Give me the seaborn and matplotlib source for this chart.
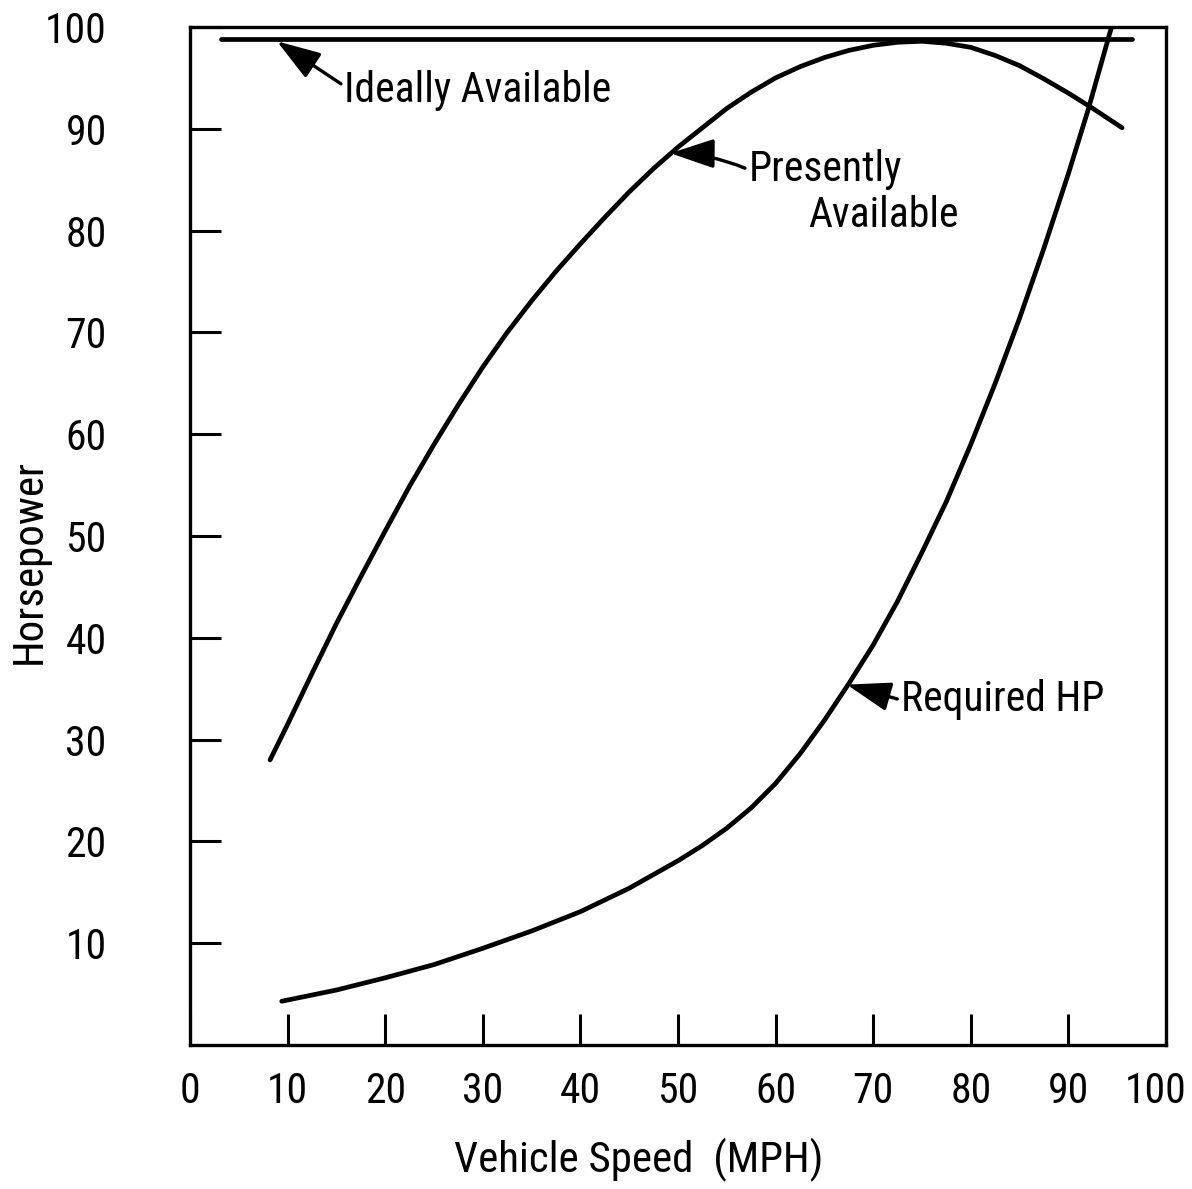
import matplotlib
matplotlib.use('agg')
import matplotlib.pyplot as plt
from matplotlib.transforms import ScaledTranslation
import seaborn as sns
import pandas as pd

# values (speed in MPH, horsepower)
ideal_speed = [3.2, 96.5]
ideal_hp = [98.8, 98.8]

present_speed = [8.2, 10, 12.5, 15, 17.5, 20, 22.5, 25, 27.5, 30, 32.5, 35, 37.5, 40, 42.5, 45,
                 47.5, 50, 52.5, 55, 57.5, 60, 62.5, 65, 67.5, 70, 72.5, 75, 77.5, 80, 82.5,
                 85, 87.5, 90, 92.5, 95.5]
present_hp = [28, 31.5, 36.5, 41.4, 46, 50.5, 54.9, 59, 62.9, 66.6, 70.0, 73.1, 76.0, 78.7, 81.3, 83.8,
              86.1, 88.2, 90.1, 92.0, 93.6, 95.0, 96.1, 97.0, 97.7, 98.2, 98.5, 98.6, 98.4, 98.0, 97.2,
              96.2, 94.9, 93.5, 92.0, 90.1]

required_speed = [9.4, 15, 20, 25, 30, 35, 40, 45, 50, 52.5, 55, 57.5, 60, 62.5, 65, 67.5, 70,
                  72.5, 75, 77.5, 80, 82.5, 85, 87.5, 90, 92, 94.3, 94.6]
required_hp = [4.3, 5.4, 6.6, 7.9, 9.5, 11.2, 13.1, 15.4, 18.1, 19.6, 21.3, 23.3, 25.7, 28.6, 31.9,
               35.5, 39.3, 43.6, 48.4, 53.4, 59.0, 65.0, 71.4, 78.3, 85.6, 91.8, 99.6, 100.6]

xticks = list(range(0, 101, 10))
yticks = list(range(10, 101, 10))

sns.set_style("ticks")
plt.rcParams['font.family'] = ['Roboto Condensed', 'Liberation Sans Narrow',
                               'DejaVu Sans Condensed', 'Roboto', 'DejaVu Sans']
plt.rcParams['text.color'] = 'black'
plt.rcParams['xtick.color'] = 'black'
plt.rcParams['ytick.color'] = 'black'
plt.rcParams['axes.edgecolor'] = 'black'
plt.rcParams['axes.labelcolor'] = 'black'

fig = plt.figure(figsize=(11.92, 11.89), dpi=100)
ax = fig.add_axes([0.1594, 0.1211, 0.8188, 0.8562])

curves = pd.concat([
    pd.DataFrame({"speed": ideal_speed, "hp": ideal_hp, "curve": "ideal"}),
    pd.DataFrame({"speed": present_speed, "hp": present_hp, "curve": "present"}),
    pd.DataFrame({"speed": required_speed, "hp": required_hp, "curve": "required"}),
])
for name, grp in curves.groupby("curve"):
    sns.lineplot(data=grp, x="speed", y="hp", color="black", lw=3.4,
                 sort=False, estimator=None, ax=ax, solid_capstyle="round",
                 solid_joinstyle="round")

ax.set_xlim(0, 100)
ax.set_ylim(0, 100)
ax.set_xticks(xticks)
ax.set_yticks(yticks)
ax.set_xticklabels([str(t) for t in xticks], fontsize=30)
ax.set_yticklabels([str(t) for t in yticks], fontsize=30)
ax.tick_params(axis="x", direction="in", length=22, width=2.2, pad=19)
ax.tick_params(axis="y", direction="in", length=22, width=2.2, pad=60)
for sp in ax.spines.values():
    sp.set_visible(True)
    sp.set_linewidth(2.4)

# the last x label sits a bit left of its tick in the reference
last = ax.get_xticklabels()[-1]
last.set_transform(last.get_transform() + ScaledTranslation(-10 / 100, 0, fig.dpi_scale_trans))

ax.set_xlabel("Vehicle Speed  (MPH)", fontsize=31)
ax.set_ylabel("Horsepower", fontsize=31)
ax.xaxis.label.set_va("center")
ax.yaxis.label.set_va("center")
ax.xaxis.set_label_coords(0.46, -0.113)
ax.yaxis.set_label_coords(-0.165, 0.475)

arrow = dict(arrowstyle="-|>,head_length=0.9,head_width=0.3", color="black", lw=2.4,
             shrinkA=0, shrinkB=0)
ax.annotate("Ideally Available", xy=(8.9, 98.6), xytext=(15.8, 93.8),
            fontsize=30, va="center", ha="left",
            arrowprops=dict(arrow, relpos=(0, 0.6)))
ax.annotate("Presently", xy=(49.2, 87.6), xytext=(57.2, 86.0),
            fontsize=30, va="center", ha="left",
            arrowprops=dict(arrow, relpos=(0, 0.5), connectionstyle="arc3,rad=0.1"))
ax.text(63.3, 81.5, "Available", fontsize=30, va="center", ha="left")
ax.annotate("Required HP", xy=(67.3, 35.4), xytext=(72.8, 33.9),
            fontsize=30, va="center", ha="left",
            arrowprops=dict(arrow, relpos=(0, 0.5)))

plt.savefig("out.png", dpi=100)
plt.close()
